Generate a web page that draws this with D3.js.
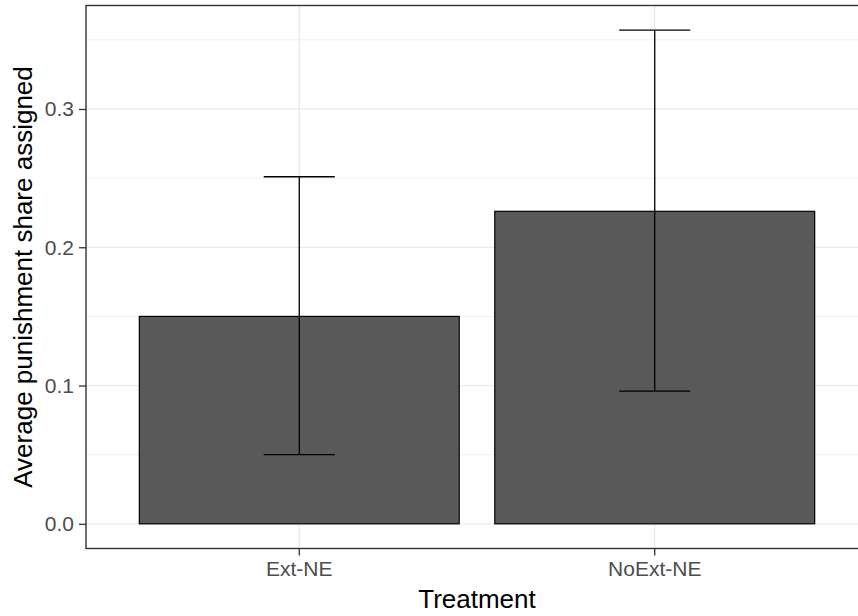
<!DOCTYPE html>
<html>
<head>
<meta charset="utf-8">
<script src="https://cdn.jsdelivr.net/npm/d3@7"></script>
<style>
  body { margin: 0; background: #fff; }
  svg { display: block; font-family: "Liberation Sans", Arial, sans-serif; }
</style>
</head>
<body>
<div id="chart"></div>
<script>
// values
const treatments = ["Ext-NE", "NoExt-NE"];
const meanShare = [0.150, 0.226];
const lowerCI = [0.050, 0.096];
const upperCI = [0.251, 0.357];
const yTicks = [0.0, 0.1, 0.2, 0.3];
const yMinorTicks = [0.05, 0.15, 0.25, 0.35];

const width = 858, height = 616;
const panel = { left: 86, right: 868, top: 5.5, bottom: 548.5 };

const svg = d3.select("#chart").append("svg")
  .attr("width", width)
  .attr("height", height);

const x = d3.scaleBand()
  .domain(treatments)
  .range([panel.left, panel.right])
  .paddingInner(0.1)
  .paddingOuter(0.15);

// ggplot style 5% expansion
const yMax = d3.max(upperCI);
const pad = yMax * 0.05;
const y = d3.scaleLinear()
  .domain([-pad, yMax + pad])
  .range([panel.bottom, panel.top]);

// grid
const grid = svg.append("g");
grid.selectAll("line.minor").data(yMinorTicks).join("line")
  .attr("x1", panel.left).attr("x2", panel.right)
  .attr("y1", d => y(d)).attr("y2", d => y(d))
  .attr("stroke", "#ebebeb").attr("stroke-width", 0.7);
grid.selectAll("line.major").data(yTicks).join("line")
  .attr("x1", panel.left).attr("x2", panel.right)
  .attr("y1", d => y(d)).attr("y2", d => y(d))
  .attr("stroke", "#ebebeb").attr("stroke-width", 1.3);
grid.selectAll("line.vmajor").data(treatments).join("line")
  .attr("x1", d => x(d) + x.bandwidth() / 2).attr("x2", d => x(d) + x.bandwidth() / 2)
  .attr("y1", panel.top).attr("y2", panel.bottom)
  .attr("stroke", "#ebebeb").attr("stroke-width", 1.3);

// bars
svg.append("g").selectAll("rect").data(treatments).join("rect")
  .attr("x", d => x(d))
  .attr("width", x.bandwidth())
  .attr("y", (d, i) => y(meanShare[i]))
  .attr("height", (d, i) => y(0) - y(meanShare[i]))
  .attr("fill", "#595959")
  .attr("stroke", "#000")
  .attr("stroke-width", 1.2);

// error bars
const capHalf = x.step() * 0.1;
const eb = svg.append("g").attr("stroke", "#000").attr("stroke-width", 1.3).attr("fill", "none");
treatments.forEach((t, i) => {
  const cx = x(t) + x.bandwidth() / 2;
  eb.append("line").attr("x1", cx).attr("x2", cx).attr("y1", y(lowerCI[i])).attr("y2", y(upperCI[i]));
  eb.append("line").attr("x1", cx - capHalf).attr("x2", cx + capHalf).attr("y1", y(upperCI[i])).attr("y2", y(upperCI[i]));
  eb.append("line").attr("x1", cx - capHalf).attr("x2", cx + capHalf).attr("y1", y(lowerCI[i])).attr("y2", y(lowerCI[i]));
});

// panel border
svg.append("rect")
  .attr("x", panel.left).attr("y", panel.top)
  .attr("width", panel.right - panel.left).attr("height", panel.bottom - panel.top)
  .attr("fill", "none").attr("stroke", "#333333").attr("stroke-width", 1.4);

// axes
const yAxis = svg.append("g")
  .attr("transform", `translate(${panel.left},0)`)
  .call(d3.axisLeft(y).tickValues(yTicks).tickFormat(d3.format(".1f")).tickSize(7).tickPadding(5));
const xAxis = svg.append("g")
  .attr("transform", `translate(0,${panel.bottom})`)
  .call(d3.axisBottom(x).tickSize(7).tickPadding(6));

[yAxis, xAxis].forEach(a => {
  a.select(".domain").remove();
  a.selectAll(".tick line").attr("stroke", "#333333").attr("stroke-width", 1.3);
  a.selectAll(".tick text")
    .attr("fill", "#4d4d4d")
    .style("font-size", "21px")
    .style("font-family", "'Liberation Sans', Arial, sans-serif");
});

// titles
svg.append("text")
  .attr("x", (panel.left + panel.right) / 2)
  .attr("y", 608)
  .attr("text-anchor", "middle")
  .style("font-size", "26px")
  .text("Treatment");

svg.append("text")
  .attr("transform", `translate(32,${(panel.top + panel.bottom) / 2}) rotate(-90)`)
  .attr("text-anchor", "middle")
  .style("font-size", "26px")
  .text("Average punishment share assigned");
</script>
</body>
</html>
